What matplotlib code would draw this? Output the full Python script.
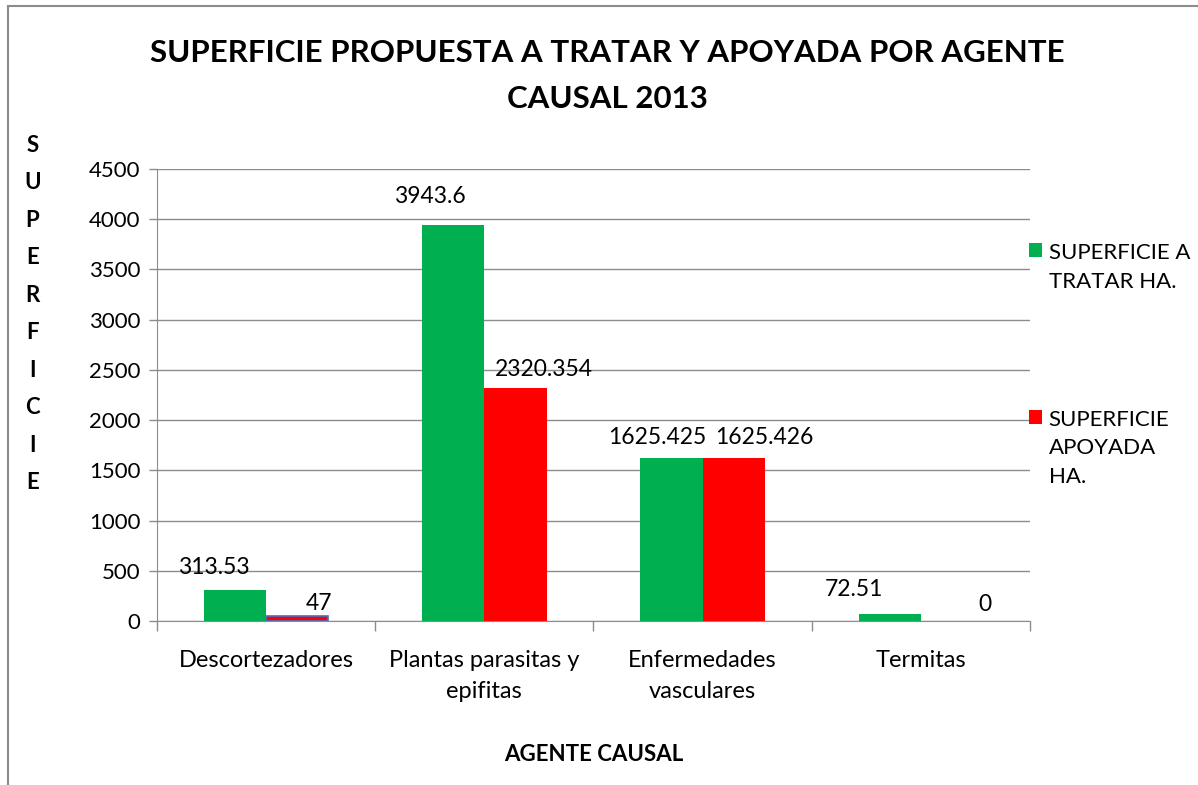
import numpy as np
import matplotlib.pyplot as plt
from matplotlib.lines import Line2D

plt.rcParams["font.family"] = ["Lato", "DejaVu Sans"]

# data
categorias = ["Descortezadores", "Plantas parasitas y\nepifitas", "Enfermedades\nvasculares", "Termitas"]
sup_tratar = [313.53, 3943.6, 1625.425, 72.51]
sup_apoyada = [47, 2320.354, 1625.426, 0]
etq_tratar = ["313.53", "3943.6", "1625.425", "72.51"]
etq_apoyada = ["47", "2320.354", "1625.426", "0"]
series = ["SUPERFICIE A\nTRATAR HA.", "SUPERFICIE\nAPOYADA\nHA."]

verde = "#00B050"
rojo = "#FF0000"
gris = "#8C8C8C"

fig = plt.figure(figsize=(11.98, 7.85), dpi=100)
ax = fig.add_axes([0.131, 0.2089, 0.7288, 0.5758])

x = np.arange(len(categorias))
w = 0.285
b1 = ax.bar(x - w/2, sup_tratar, w, color=verde, label=series[0], zorder=3)
b2 = ax.bar(x + w/2, sup_apoyada, w, color=rojo, label=series[1], zorder=3)

# data labels (Excel places them a bit off-center)
dx1 = [-21, -23, -14, -36]
dx2 = [22, 28, 31, 33]
dy1 = [12, 18, 10, 14]
dy2 = [2, 8, 10, 6]
for i in range(len(x)):
    ax.annotate(etq_tratar[i], (x[i] - w/2, sup_tratar[i]), xytext=(dx1[i], dy1[i]),
                textcoords="offset pixels", ha="center", va="bottom", fontsize=16.5)
    ax.annotate(etq_apoyada[i], (x[i] + w/2, sup_apoyada[i]), xytext=(dx2[i], dy2[i]),
                textcoords="offset pixels", ha="center", va="bottom", fontsize=16.5)

ax.set_xlim(-0.5, len(x) - 0.5)
ax.set_ylim(0, 4500)
ax.set_yticks(np.arange(0, 4501, 500))
ax.yaxis.grid(True, color=gris, linewidth=1, zorder=0)
ax.set_xticks(x)
ax.set_xticklabels(categorias, fontsize=17, linespacing=1.6)
ax.set_xticks(np.arange(-0.5, len(x), 1), minor=True)
ax.tick_params(axis="x", which="major", length=0, pad=21)
ax.tick_params(axis="x", which="minor", length=7, color=gris, width=1)
ax.tick_params(axis="y", length=6, color=gris, width=1, labelsize=16, pad=6)
for s in ["top", "right"]:
    ax.spines[s].set_visible(False)
for s in ["left", "bottom"]:
    ax.spines[s].set_color(gris)

ax.set_xlabel("AGENTE CAUSAL", fontsize=16, fontweight="bold", labelpad=30)
fig.text(0.027, 0.60, "\n".join("SUPERFICIE"), ha="center", va="center",
         fontsize=16, fontweight="bold", linespacing=1.97)

fig.suptitle("SUPERFICIE PROPUESTA A TRATAR Y APOYADA POR AGENTE\nCAUSAL 2013",
             x=0.507, y=0.95, fontsize=22.5, fontweight="bold", linespacing=1.75)

leg = ax.legend(loc="upper left", bbox_to_anchor=(0.842, 0.716), bbox_transform=fig.transFigure,
                frameon=False, fontsize=16, handlelength=0.6, handleheight=0.6,
                handletextpad=0.3, labelspacing=5.3)
for t in leg.get_texts():
    t.set_linespacing(1.55)
for col in leg._legend_handle_box.get_children():
    for row in col.get_children():
        row.align = "top"

# the small red bar shows a blue outline in the original
b2[0].set_edgecolor("#4472C4")
b2[0].set_linewidth(1.2)

# chart area border (left and top only visible)
fig.add_artist(Line2D([0.007, 0.007], [0, 0.992], color=gris, lw=1.5, transform=fig.transFigure))
fig.add_artist(Line2D([0.007, 1], [0.992, 0.992], color=gris, lw=1.5, transform=fig.transFigure))

plt.savefig("out.png", dpi=100)
